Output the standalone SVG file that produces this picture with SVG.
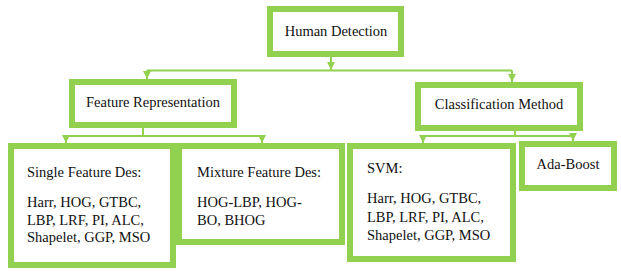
<svg xmlns="http://www.w3.org/2000/svg" width="621" height="273" viewBox="0 0 621 273">
<style>
.box{fill:#fff;stroke:#92d050;stroke-width:6}
.ln{fill:none;stroke:#92d050;stroke-width:2}
</style>
<defs>
<marker id="ah" viewBox="0 0 8 8" refX="8" refY="4" markerWidth="8" markerHeight="8" orient="auto" markerUnits="userSpaceOnUse">
<path d="M0,0 L8,4 L0,8 Z" fill="#92d050"/>
</marker>
</defs>
<rect width="621" height="273" fill="#fff"/>
<g id="connectors">
<path class="ln" d="M331,57 V70" marker-end="url(#ah)"/>
<path class="ln" d="M147,70.5 H512"/>
<path class="ln" d="M147,70.5 V79" marker-end="url(#ah)"/>
<path class="ln" d="M512,70.5 V82" marker-end="url(#ah)"/>
<path class="ln" d="M143,128 V136"/>
<path class="ln" d="M66,136 H262"/>
<path class="ln" d="M66,136 V143" marker-end="url(#ah)"/>
<path class="ln" d="M262,136 V143" marker-end="url(#ah)"/>
<path class="ln" d="M515,131 V136"/>
<path class="ln" d="M423,136 H573"/>
<path class="ln" d="M423,136 V143" marker-end="url(#ah)"/>
<path class="ln" d="M573,136 V141" marker-end="url(#ah)"/>
</g>
<g font-family="Liberation Serif, Times New Roman, serif" font-size="14.5" fill="#111">
<g id="human-detection">
<rect class="box" x="270" y="9" width="131" height="45"/>
<text x="336" y="36" text-anchor="middle">Human Detection</text>
</g>
<g id="feature-representation">
<rect class="box" x="72" y="82" width="162" height="43"/>
<text x="153" y="107" text-anchor="middle">Feature Representation</text>
</g>
<g id="classification-method">
<rect class="box" x="418" y="85" width="162" height="43"/>
<text x="499" y="109" text-anchor="middle">Classification Method</text>
</g>
<g id="single-feature">
<rect class="box" x="11" y="146" width="162" height="119"/>
<text x="27" y="177">Single Feature Des:</text>
<text x="27" y="207">Harr, HOG, GTBC,</text>
<text x="27" y="224.5">LBP, LRF, PI, ALC,</text>
<text x="27" y="242">Shapelet, GGP, MSO</text>
</g>
<g id="mixture-feature">
<rect class="box" x="179" y="146" width="163" height="96"/>
<text x="197" y="177">Mixture Feature Des:</text>
<text x="197" y="207">HOG-LBP, HOG-</text>
<text x="197" y="224.5">BO, BHOG</text>
</g>
<g id="svm">
<rect class="box" x="350" y="146" width="163" height="113"/>
<text x="367" y="173">SVM:</text>
<text x="367" y="203">Harr, HOG, GTBC,</text>
<text x="367" y="221.5">LBP, LRF, PI, ALC,</text>
<text x="367" y="240">Shapelet, GGP, MSO</text>
</g>
<g id="ada-boost">
<rect class="box" x="522" y="144" width="92" height="44"/>
<text x="568" y="169" text-anchor="middle">Ada-Boost</text>
</g>
</g>
</svg>
